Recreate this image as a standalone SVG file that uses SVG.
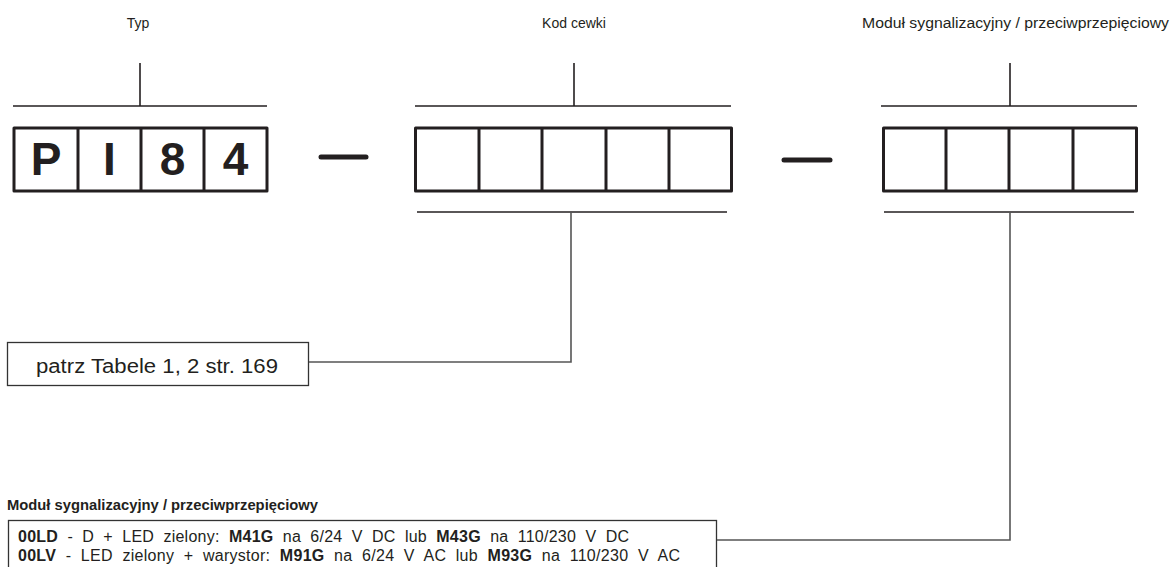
<svg xmlns="http://www.w3.org/2000/svg" width="1173" height="567" viewBox="0 0 1173 567">
<style>
.lbl{font-family:"Liberation Sans",Arial,sans-serif;font-size:14px;fill:#231f20}
.big{font-family:"Liberation Sans",Arial,sans-serif;font-size:46px;font-weight:bold;fill:#231f20;text-anchor:middle}
.box{fill:#fff;stroke:#231f20;stroke-width:3;stroke-linejoin:round}
.div{stroke:#231f20;stroke-width:3}
.tick{stroke:#231f20;stroke-width:1.6;fill:none}
.conn{stroke:#555;stroke-width:1.6;fill:none}
.dash{stroke:#231f20;stroke-width:5;stroke-linecap:round}
.info{fill:#fff;stroke:#333;stroke-width:1.3}
.txt{font-family:"Liberation Sans",Arial,sans-serif;font-size:16px;fill:#231f20}
</style>
<rect width="1173" height="567" fill="#fff"/>
<g id="typ">
<text class="lbl" x="138" y="28" text-anchor="middle">Typ</text>
<line class="tick" x1="140" y1="63" x2="140" y2="106"/>
<line class="tick" x1="13" y1="106" x2="267" y2="106"/>
<rect class="box" x="14" y="128" width="253" height="63"/>
<line class="div" x1="78" y1="128" x2="78" y2="191"/>
<line class="div" x1="141" y1="128" x2="141" y2="191"/>
<line class="div" x1="204" y1="128" x2="204" y2="191"/>
<text class="big" x="46" y="175">P</text>
<text class="big" x="109.5" y="175">I</text>
<text class="big" x="172.5" y="175">8</text>
<text class="big" x="235.5" y="175">4</text>
</g>
<g id="sep1"><line class="dash" x1="321" y1="157" x2="366" y2="157"/></g>
<g id="kod">
<text class="lbl" x="574" y="28" text-anchor="middle">Kod cewki</text>
<line class="tick" x1="574" y1="63" x2="574" y2="106"/>
<line class="tick" x1="415" y1="106" x2="731" y2="106"/>
<rect class="box" x="415.5" y="128" width="316" height="63"/>
<line class="div" x1="479" y1="128" x2="479" y2="191"/>
<line class="div" x1="542" y1="128" x2="542" y2="191"/>
<line class="div" x1="606" y1="128" x2="606" y2="191"/>
<line class="div" x1="669" y1="128" x2="669" y2="191"/>
<line class="tick" x1="417" y1="212" x2="727" y2="212"/>
</g>
<g id="sep2"><line class="dash" x1="784" y1="160" x2="830" y2="160"/></g>
<g id="modul">
<text class="lbl" x="862" y="28" textLength="307" lengthAdjust="spacingAndGlyphs">Moduł sygnalizacyjny / przeciwprzepięciowy</text>
<line class="tick" x1="1010" y1="63" x2="1010" y2="106"/>
<line class="tick" x1="881" y1="106" x2="1137" y2="106"/>
<rect class="box" x="883.5" y="128" width="253" height="63"/>
<line class="div" x1="946" y1="128" x2="946" y2="191"/>
<line class="div" x1="1009" y1="128" x2="1009" y2="191"/>
<line class="div" x1="1073" y1="128" x2="1073" y2="191"/>
<line class="tick" x1="884" y1="212" x2="1134" y2="212"/>
</g>
<g id="patrz">
<rect class="info" x="7.5" y="342.5" width="301" height="43"/>
<text class="txt" x="36" y="373" textLength="242" lengthAdjust="spacingAndGlyphs" style="font-size:20px">patrz Tabele 1, 2  str. 169</text>
</g>
<g id="lista">
<text class="txt" x="7" y="510" style="font-weight:bold;font-size:15px" textLength="311" lengthAdjust="spacingAndGlyphs">Moduł sygnalizacyjny / przeciwprzepięciowy</text>
<rect class="info" x="8.5" y="520.5" width="708" height="60"/>
<text class="txt" x="18" y="542" word-spacing="4.6" textLength="611" lengthAdjust="spacing"><tspan font-weight="bold">00LD</tspan> - D + LED zielony: <tspan font-weight="bold">M41G</tspan> na 6/24 V DC lub <tspan font-weight="bold">M43G</tspan> na 110/230 V DC</text>
<text class="txt" x="18" y="561" word-spacing="4.8" textLength="662" lengthAdjust="spacing"><tspan font-weight="bold">00LV</tspan> - LED zielony + warystor: <tspan font-weight="bold">M91G</tspan> na 6/24 V AC lub <tspan font-weight="bold">M93G</tspan> na 110/230 V AC</text>
</g>
<g id="connectors">
<polyline class="conn" points="571,212 571,362 309,362"/>
<polyline class="conn" points="1010,212 1010,540 717,540"/>
</g>
</svg>
